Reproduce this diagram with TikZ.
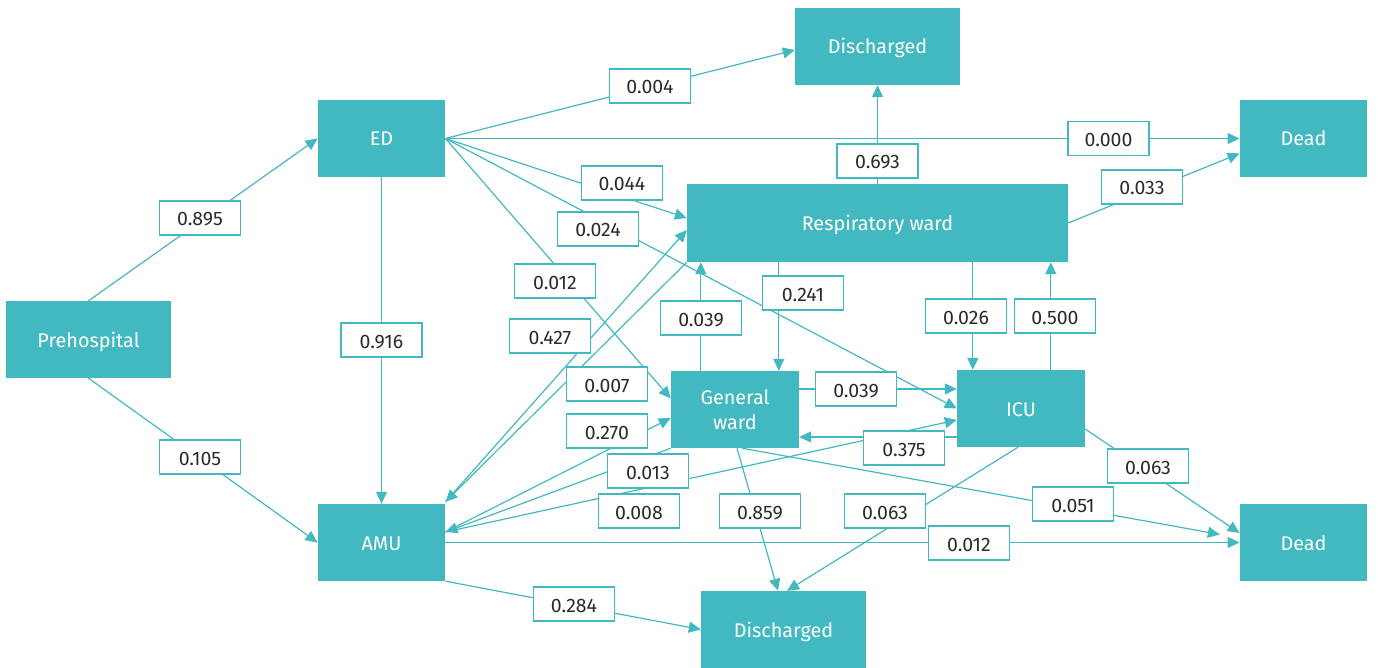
\documentclass[tikz,border=0pt]{standalone}
\usepackage{fontspec}
\setmainfont{Fira Sans}
\usetikzlibrary{arrows.meta,calc}
\definecolor{tealA}{HTML}{42B8C1}
\definecolor{labtxt}{HTML}{2B2B2B}
\begin{document}
\begin{tikzpicture}[x=1pt,y=-1pt,
  box/.style={fill=tealA, text=white, inner sep=0pt, align=center,
    font=\fontsize{19.8}{25}\selectfont, minimum height=77pt},
  onebox/.style={box, text height=18pt, text depth=3pt},
  wbox/.style={onebox, minimum width=165pt},
  nbox/.style={onebox, minimum width=127.5pt},
  lab/.style={draw=tealA, line width=1.3pt, fill=white, minimum width=81pt,
    minimum height=34pt, inner sep=0pt, text=labtxt, text height=17pt, text depth=1pt,
    font=\fontsize{19.5}{22}\selectfont},
  conn/.style={draw=tealA, line width=1.2pt, -{Triangle[length=12pt,width=11pt]}},
]
\useasboundingbox (0,0) rectangle (1383,668);

% states
\node[wbox] (pre) at (88.5,339.5) {Prehospital};
\node[nbox] (ed) at (381.5,138.5) {ED};
\node[nbox] (amu) at (381.5,542.5) {AMU};
\node[wbox] (dis1) at (877.5,46.5) {Discharged};
\node[nbox] (dead1) at (1303.5,138.5) {Dead};
\node[onebox, minimum width=381pt, minimum height=78pt] (resp) at (877.5,223) {Respiratory ward};
\node[box, minimum width=128pt] (gw) at (735,409.5) {General\\ward};
\node[onebox, minimum width=128pt] (icu) at (1021,408.5) {ICU};
\node[nbox] (dead2) at (1303.5,542.5) {Dead};
\node[wbox] (dis2) at (783.5,629.5) {Discharged};

% connectors
\draw[conn] (pre.north) -- (ed.west);
\draw[conn] (pre.south) -- (amu.west);
\draw[conn] (ed.south) -- (amu.north);
\draw[conn] (ed.east) -- ($(dis1.west)+(0,3.5)$);
\draw[conn] (ed.east) -- (dead1.west);
\draw[conn] (ed.east) -- ($(resp.west)+(0,-5)$);
\draw[conn] (ed.east) -- (icu.west);
\draw[conn] (ed.east) -- ($(gw.west)+(0,-11)$);
\draw[conn] ($(amu.north east)+(0,-2)$) -- ($(resp.west)+(0,7)$);
\draw[conn] (resp.south west) -- ($(amu.north east)+(0,-2)$);
\draw[conn] (resp.north) -- (dis1.south);
\draw[conn] (resp.east) -- ($(dead1.west)+(0,15)$);
\draw[conn] ($(gw.north west)+(30,0)$) -- ($(resp.south west)+(14,0)$);
\draw[conn] ($(resp.south west)+(92,0)$) -- ($(gw.north west)+(108,0)$);
\draw[conn] ($(resp.south west)+(286,0)$) -- ($(icu.north west)+(16,0)$);
\draw[conn] ($(icu.north west)+(94,0)$) -- ($(resp.south west)+(364,0)$);
\draw[conn] ($(gw.east)+(0,-20.5)$) -- ($(icu.west)+(0,-19.5)$);
\draw[conn] ($(icu.west)+(0,28.5)$) -- ($(gw.east)+(0,27.5)$);
\draw[conn] ($(amu.east)+(0,-10.5)$) -- ($(gw.west)+(0,8.5)$);
\draw[conn] (gw.south west) -- ($(amu.east)+(0,-10.5)$);
\draw[conn] ($(amu.east)+(0,-10.5)$) -- ($(icu.west)+(0,11.5)$);
\draw[conn] (amu.east) -- (dead2.west);
\draw[conn] (amu.south east) -- (dis2.west);
\draw[conn] ($(gw.south)+(2,0)$) -- ($(dis2.north)+(-5.5,0)$);
\draw[conn] ($(icu.south)+(-3,0)$) -- ($(dis2.north)+(3.5,0)$);
\draw[conn] ($(icu.east)+(0,20.5)$) -- ($(dead2.west)+(0,-9.5)$);
\draw[conn, shorten >=20pt] ($(gw.south)+(7,0)$) -- ($(dead2.west)+(0,-4.5)$);

% labels
\node[lab] (l01) at (200,218) {0.895};
\node[lab] (l02) at (200,457) {0.105};
\node[lab] (l03) at (381.5,340) {0.916};
\node[lab] (l04) at (650,86) {0.004};
\node[lab] (l05) at (1108.5,138.5) {0.000};
\node[lab] (l06) at (622,183) {0.044};
\node[lab] (l07) at (598,229) {0.024};
\node[lab] (l08) at (555,281) {0.012};
\node[lab] (l09) at (550,336) {0.427};
\node[lab] (l10) at (607,384) {0.007};
\node[lab] (l11) at (607,431) {0.270};
\node[lab] (l12) at (648,471) {0.013};
\node[lab] (l13) at (639,511) {0.008};
\node[lab] (l14) at (760,511) {0.859};
\node[lab] (l15) at (885,511) {0.063};
\node[lab] (l16) at (701,318) {0.039};
\node[lab] (l17) at (803,293) {0.241};
\node[lab] (l18) at (966,316) {0.026};
\node[lab] (l19) at (1055,316) {0.500};
\node[lab] (l20) at (877.5,161) {0.693};
\node[lab] (l21) at (1142,187) {0.033};
\node[lab] (l22) at (856,389) {0.039};
\node[lab] (l23) at (904,448) {0.375};
\node[lab] (l24) at (1148,466) {0.063};
\node[lab] (l25) at (1073,504) {0.051};
\node[lab] (l26) at (969,543) {0.012};
\node[lab] (l27) at (574,604) {0.284};
\end{tikzpicture}
\end{document}
